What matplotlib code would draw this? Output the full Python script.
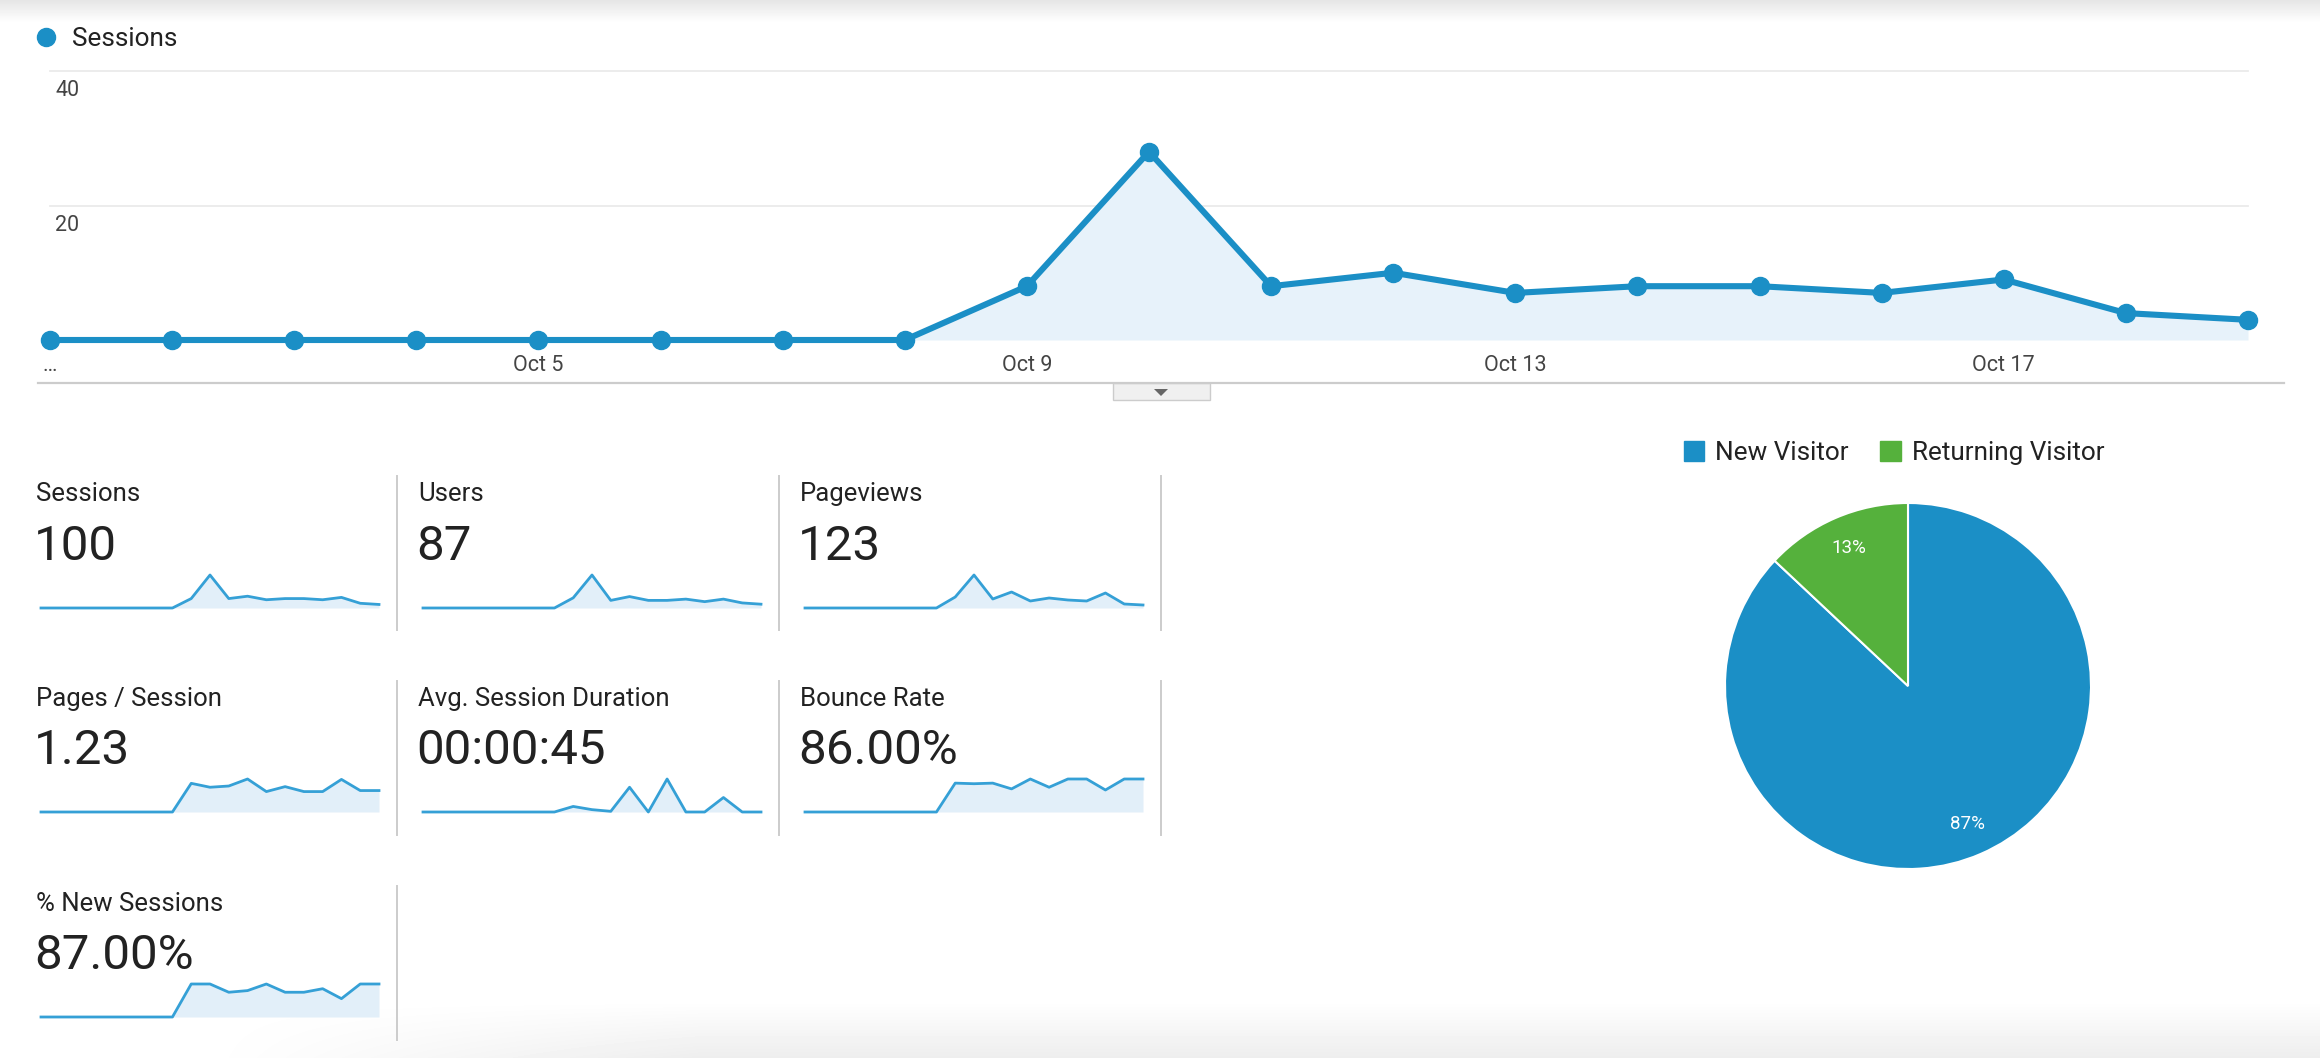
import numpy as np
import matplotlib
matplotlib.use("Agg")
import matplotlib.pyplot as plt
from matplotlib.lines import Line2D
from matplotlib.patches import Patch, Rectangle, Polygon

plt.rcParams['font.family'] = ['Roboto', 'DejaVu Sans']

# ---- data ----
days = list(range(1, 20))   # Oct 1 .. Oct 19
sessions = [0, 0, 0, 0, 0, 0, 0, 0, 8, 28, 8, 10, 7, 8, 8, 7, 9, 4, 3]
users = [0, 0, 0, 0, 0, 0, 0, 0, 8, 26, 6, 9, 6, 6, 7, 5, 7, 4, 3]
pageviews = [0, 0, 0, 0, 0, 0, 0, 0, 11, 33, 9, 16, 7, 10, 8, 7, 15, 4, 3]
pages_per_session = [0, 0, 0, 0, 0, 0, 0, 0, 1.39, 1.2, 1.26, 1.6, 0.99, 1.23, 0.99, 0.99, 1.58, 1.04, 1.04]
avg_duration = [0, 0, 0, 0, 0, 0, 0, 0, 33, 14, 4, 147, 0, 196, 0, 0, 86, 0, 0]
bounce_rate = [0, 0, 0, 0, 0, 0, 0, 0, 87.5, 85.7, 87.5, 70, 100, 75, 100, 100, 66.7, 100, 100]
new_sessions_pct = [0, 0, 0, 0, 0, 0, 0, 0, 100, 100, 75, 80, 100, 75, 75, 85.7, 55.6, 100, 100]

date_ticks = [1, 5, 9, 13, 17]
date_labels = ['\u2026', 'Oct 5', 'Oct 9', 'Oct 13', 'Oct 17']
y_ticks = [20, 40]

metric_names = ['Sessions', 'Users', 'Pageviews', 'Pages / Session',
                'Avg. Session Duration', 'Bounce Rate', '% New Sessions']
metric_values = ['100', '87', '123', '1.23', '00:00:45', '86.00%', '87.00%']
metric_series = [sessions, users, pageviews, pages_per_session,
                 avg_duration, bounce_rate, new_sessions_pct]

visitor_labels = ['New Visitor', 'Returning Visitor']
visitor_share = [87, 13]

BLUE = '#1b8fc6'
GREEN = '#55b13c'
FILL = '#e7f2fa'
SPARK = '#35a0d6'
SPARK_FILL = '#e2eff9'
TXT = '#222222'

W, H = 2320, 1058
fig = plt.figure(figsize=(W / 100, H / 100), dpi=100)
fig.patch.set_facecolor('white')


def box(x0, y0, x1, y1):
    # pixel box (top-left origin) -> figure rect
    return [x0 / W, 1 - y1 / H, (x1 - x0) / W, (y1 - y0) / H]


# background shadows (top edge, bottom edge)
bg = fig.add_axes([0, 0, 1, 1], zorder=-5)
bg.axis('off')
grad = np.ones((H, W))
top = np.clip(np.arange(H) / 22.0, 0, 1)
grad *= (0.90 + 0.10 * top)[:, None]
yy = np.clip((np.arange(H) - 1000) / 58.0, 0, 1)[:, None]
xx = np.clip((np.arange(W) - 200) / 500.0, 0, 1)[None, :]
grad *= 1 - 0.07 * yy * xx
bg.imshow(grad, cmap='gray', vmin=0, vmax=1, aspect='auto', extent=[0, 1, 0, 1])
bg.set_xlim(0, 1)
bg.set_ylim(0, 1)

# ---- main sessions chart ----
ax = fig.add_axes(box(50, 71, 2248, 340))
ax.set_xlim(days[0], days[-1])
ax.set_ylim(0, 40)
for s in ax.spines.values():
    s.set_visible(False)
for v in y_ticks:
    ax.axhline(v, color='#ebebeb', lw=1.3, zorder=0, clip_on=False)
    ax.annotate(str(v), xy=(0, v), xycoords=('axes fraction', 'data'),
                xytext=(5, -20), textcoords='offset pixels',
                ha='left', va='center', fontsize=15.5, color='#444444')
ax.axhline(0, color='#333333', lw=1.3, zorder=1)
ax.fill_between(days, sessions, 0, color=FILL, zorder=1, lw=0)
ax.plot(days, sessions, color=BLUE, lw=4.4, marker='o', ms=13,
        solid_joinstyle='round', clip_on=False, zorder=3)
ax.set_yticks([])
ax.set_xticks(date_ticks)
ax.set_xticklabels(date_labels, fontsize=15.5, color='#444444')
ax.tick_params(axis='x', length=0, pad=10.5)

fig.legend(handles=[Line2D([], [], marker='o', ls='', color=BLUE, ms=13)],
           labels=['Sessions'], loc='center left',
           bbox_to_anchor=(37 / W, 1 - 39 / H), frameon=False, fontsize=18.8,
           handlelength=0.72, handletextpad=0.62, borderpad=0, borderaxespad=0,
           labelcolor=TXT)

# line under chart + collapse tab
fig.add_artist(Line2D([38 / W, 2284 / W], [1 - 383 / H, 1 - 383 / H],
                      color='#cccccc', lw=1.6))
fig.add_artist(Rectangle((1113 / W, 1 - 400 / H), 97 / W, 17 / H,
                         facecolor='#f0f0f0', edgecolor='#cccccc', lw=1))
fig.add_artist(Polygon([[1154 / W, 1 - 389 / H], [1168 / W, 1 - 389 / H],
                        [1161 / W, 1 - 396 / H]], closed=True,
                       facecolor='#666666', edgecolor='none'))

# ---- metric tiles ----
col_x = [36, 418, 800]
row_title = [494, 699, 904]
row_value = [547, 751, 956]
row_base = [608, 812, 1017]
row_div = [(476, 630), (681, 835), (886, 1040)]
div_x = [397, 779, 1161]

for i, (name, val, series) in enumerate(zip(metric_names, metric_values, metric_series)):
    r, c = divmod(i, 3)
    x0 = col_x[c]
    fig.text(x0 / W, 1 - row_title[r] / H, name, fontsize=18.5, color=TXT,
             ha='left', va='center')
    fig.text((x0 - 2) / W, 1 - row_value[r] / H, val, fontsize=35.5, color=TXT,
             ha='left', va='center')
    sp = fig.add_axes(box(x0 + 5, row_base[r] - 33, x0 + 343, row_base[r]))
    sp.axis('off')
    sp.set_xlim(days[0], days[-1])
    sp.set_ylim(0, max(series))
    sp.fill_between(days, series, 0, color=SPARK_FILL, lw=0)
    sp.plot(days, series, color=SPARK, lw=2.0, clip_on=False)

for r, (y0, y1) in enumerate(row_div):
    ncols = 3 if r < 2 else 1
    for c in range(ncols):
        fig.add_artist(Line2D([div_x[c] / W] * 2, [1 - y0 / H, 1 - y1 / H],
                              color='#cccccc', lw=1.4))

# ---- visitor pie ----
cx, cy, rad = 1908, 686, 183
pax = fig.add_axes(box(cx - rad, cy - rad, cx + rad, cy + rad))
pax.pie(visitor_share, colors=[BLUE, GREEN], startangle=90, counterclock=False,
        autopct='%d%%', pctdistance=0.82,
        wedgeprops=dict(edgecolor='white', linewidth=1.5),
        textprops=dict(color='white', fontsize=13.5))
pax.set_xlim(-1, 1)
pax.set_ylim(-1, 1)
pax.set_aspect('equal')

fig.legend(handles=[Patch(color=BLUE), Patch(color=GREEN)], labels=visitor_labels,
           loc='center left', bbox_to_anchor=(1684 / W, 1 - 453 / H), ncol=2,
           frameon=False, fontsize=18.8, handlelength=0.78, handleheight=0.78,
           handletextpad=0.42, columnspacing=1.2, borderpad=0, borderaxespad=0,
           labelcolor=TXT)

fig.savefig('out.png', dpi=100, facecolor='white')
